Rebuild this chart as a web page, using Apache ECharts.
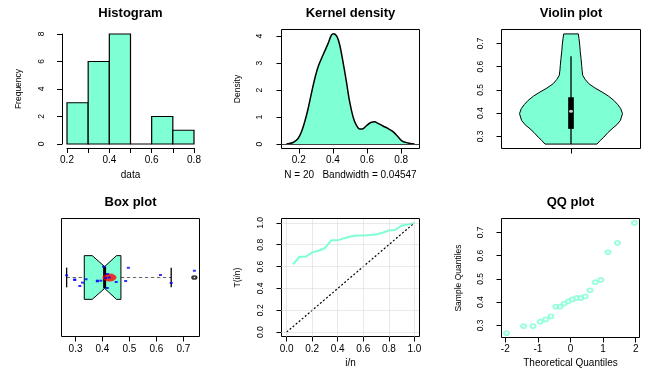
<!DOCTYPE html>
<html>
<head>
<meta charset="utf-8">
<script src="https://cdn.jsdelivr.net/npm/echarts@6/dist/echarts.min.js"></script>
<style>
  html, body { margin: 0; padding: 0; background: #fff; }
  #main { width: 659px; height: 374px; }
</style>
</head>
<body>
<div id="main"></div>
<script>
const AQUA = '#7FFFD4'
const FONT = 'Liberation Sans, Arial, sans-serif'

const sampleData = [0.267, 0.297, 0.297, 0.316, 0.326, 0.339, 0.381, 0.381, 0.394, 0.404,
  0.412, 0.418, 0.418, 0.425, 0.451, 0.486, 0.496, 0.615, 0.655, 0.741]
const sampleTicks = [0.3, 0.4, 0.5, 0.6, 0.7]

// histogram
const histEdges = [0.2, 0.3, 0.4, 0.5, 0.6, 0.7, 0.8]
const histCounts = [3, 6, 8, 0, 2, 1]
const histXTicks = [0.2, 0.3, 0.4, 0.5, 0.6, 0.7, 0.8]
const histXLabels = [0.2, 0.4, 0.6, 0.8]
const histYTicks = [0, 2, 4, 6, 8]

// kernel density
const densX = [0.128, 0.167, 0.196, 0.216, 0.235, 0.255, 0.274, 0.294, 0.313, 0.342, 0.372, 0.391,
  0.405, 0.424, 0.44, 0.459, 0.479, 0.498, 0.518, 0.537, 0.557, 0.572, 0.596, 0.619, 0.644, 0.664,
  0.693, 0.722, 0.752, 0.781, 0.806, 0.84, 0.878]
const densY = [0, 0.06, 0.21, 0.46, 0.83, 1.32, 1.88, 2.43, 2.86, 3.3, 3.73, 4.04,
  4.09, 3.98, 3.67, 3.05, 2.31, 1.57, 1.01, 0.7, 0.56, 0.56, 0.68, 0.79, 0.83, 0.77,
  0.67, 0.58, 0.46, 0.27, 0.11, 0.04, 0]
const densXTicks = [0.2, 0.4, 0.6, 0.8]
const densYTicks = [0, 1, 2, 3, 4]

// violin outline: height and half width
const violinY = [0.267, 0.283, 0.297, 0.316, 0.333, 0.35, 0.369, 0.398, 0.419, 0.437, 0.455, 0.474,
  0.491, 0.508, 0.527, 0.546, 0.563, 0.585, 0.606, 0.635, 0.664, 0.693, 0.721, 0.741]
const violinHalf = [0.202, 0.228, 0.255, 0.286, 0.319, 0.356, 0.384, 0.4, 0.387, 0.363, 0.333, 0.29,
  0.241, 0.187, 0.138, 0.109, 0.091, 0.086, 0.083, 0.078, 0.072, 0.068, 0.062, 0.057]
const violinBox = [0.267, 0.3325, 0.408, 0.4685, 0.645] // whisker lo, q1, median, q3, whisker hi

// box plot
const boxStats = [0.267, 0.3325, 0.408, 0.4685, 0.655]
const boxNotch = [0.362, 0.452]
const boxOutliers = [0.741]
const boxMean = [0.426]
const boxJitter = [0.02, -0.018, -0.023, -0.078, -0.047, -0.016, -0.035, -0.029, -0.029, 0.099,
  -0.005, 0.032, -0.096, 0, -0.041, -0.032, 0.089, 0.023, -0.05, 0.062]

// T(i/n) plot
const tX = [0.05, 0.1, 0.15, 0.2, 0.25, 0.3, 0.35, 0.4, 0.45, 0.5, 0.55, 0.6, 0.65, 0.7, 0.75, 0.8, 0.85, 0.9, 0.95, 1]
const tY = [0.62, 0.69, 0.69, 0.73, 0.745, 0.77, 0.84, 0.84, 0.86, 0.875, 0.885, 0.885, 0.888, 0.893,
  0.91, 0.93, 0.935, 0.975, 0.985, 1]
const tTicks = [0, 0.2, 0.4, 0.6, 0.8, 1]
const tRefLine = [[0, 0], [1, 1]]

// QQ plot
const qqTheo = [-1.96, -1.44, -1.15, -0.93, -0.76, -0.6, -0.45, -0.32, -0.19, -0.06,
  0.06, 0.19, 0.32, 0.45, 0.6, 0.76, 0.93, 1.15, 1.44, 1.96]
const qqXTicks = [-2, -1, 0, 1, 2]

const frame = { show: true, borderColor: '#000', borderWidth: 1, backgroundColor: 'transparent' }
const grids = [
  { left: 67, top: 34, width: 127, height: 110, show: false },
  Object.assign({ left: 281.5, top: 29.5, width: 138, height: 119 }, frame),
  Object.assign({ left: 501.5, top: 29.5, width: 139, height: 119 }, frame),
  Object.assign({ left: 61.5, top: 218.5, width: 138, height: 118 }, frame),
  Object.assign({ left: 281.5, top: 218.5, width: 138, height: 118 }, frame),
  Object.assign({ left: 501.5, top: 218.5, width: 138, height: 119 }, frame)
]

function axis(o) {
  return {
    type: 'value', gridIndex: o.grid, min: o.min, max: o.max, offset: o.offset || 0,
    axisLine: { show: !!o.line, onZero: false, lineStyle: { color: '#000', width: 1 } },
    axisTick: { show: !!o.ticks, customValues: o.ticks, length: 5, lineStyle: { color: '#000', width: 1 } },
    axisLabel: {
      show: !!o.labels, customValues: o.labels, rotate: o.rotate || 0, margin: o.margin,
      color: '#000', fontFamily: FONT, fontSize: o.rotate ? 8.5 : 10, formatter: o.fmt
    },
    splitLine: { show: false },
    name: o.name || '', nameLocation: 'middle', nameGap: o.nameGap || 20,
    nameTextStyle: { color: '#000', fontFamily: FONT, fontSize: o.rotate ? 8.5 : 10 }
  }
}
const oneDec = v => v.toFixed(1)

const xAxes = [
  axis({ grid: 0, min: 0.2, max: 0.8, offset: 4, line: true, ticks: histXTicks, labels: histXLabels, margin: 7, name: 'data', nameGap: 22 }),
  axis({ grid: 1, min: 0.099, max: 0.907, ticks: densXTicks, labels: densXTicks, margin: 7, name: 'N = 20   Bandwidth = 0.04547', nameGap: 22 }),
  axis({ grid: 2, min: 0.46, max: 1.54, ticks: [1] }),
  axis({ grid: 3, min: 0.248, max: 0.76, ticks: sampleTicks, labels: sampleTicks, margin: 7.5 }),
  axis({ grid: 4, min: -0.04, max: 1.04, ticks: tTicks, labels: tTicks, margin: 7.5, fmt: oneDec, name: 'i/n', nameGap: 22 }),
  axis({ grid: 5, min: -2.117, max: 2.117, ticks: qqXTicks, labels: qqXTicks, margin: 7, name: 'Theoretical Quantiles', nameGap: 21 })
]
const yAxes = [
  axis({ grid: 0, min: 0, max: 8, offset: 5, line: true, ticks: histYTicks, labels: histYTicks, rotate: 90, margin: 16, name: 'Frequency', nameGap: 39 }),
  axis({ grid: 1, min: -0.163, max: 4.245, ticks: densYTicks, labels: densYTicks, rotate: 90, margin: 17, name: 'Density', nameGap: 39 }),
  axis({ grid: 2, min: 0.248, max: 0.76, ticks: sampleTicks, labels: sampleTicks, rotate: 90, margin: 16 }),
  axis({ grid: 3, min: 0.46, max: 1.54 }),
  axis({ grid: 4, min: -0.04, max: 1.04, ticks: tTicks, labels: tTicks, rotate: 90, margin: 16, fmt: oneDec, name: 'T(i/n)', nameGap: 39 }),
  axis({ grid: 5, min: 0.248, max: 0.76, ticks: sampleTicks, labels: sampleTicks, rotate: 90, margin: 16, name: 'Sample Quantiles', nameGap: 38 })
]

const titleStyle = { fontFamily: FONT, fontSize: 13, fontWeight: 'bold', color: '#000' }
const titles = [
  { text: 'Histogram', left: 130.5, top: 7 },
  { text: 'Kernel density', left: 350.5, top: 7 },
  { text: 'Violin plot', left: 571, top: 7 },
  { text: 'Box plot', left: 130.5, top: 196 },
  { text: 'QQ plot', left: 570.5, top: 196 }
].map(t => Object.assign({ textAlign: 'center', padding: 0, textStyle: titleStyle }, t))

const series = [
  {
    type: 'custom', xAxisIndex: 0, yAxisIndex: 0,
    data: histCounts.map((c, i) => [histEdges[i], histEdges[i + 1], c]),
    renderItem: (params, api) => {
      const p0 = api.coord([api.value(0), 0])
      const p1 = api.coord([api.value(1), api.value(2)])
      return {
        type: 'rect',
        shape: { x: p0[0], y: p1[1], width: p1[0] - p0[0], height: p0[1] - p1[1] },
        style: { fill: AQUA, stroke: '#000', lineWidth: 1.2 }
      }
    }
  },
  {
    type: 'line', xAxisIndex: 1, yAxisIndex: 1,
    data: densX.map((x, i) => [x, densY[i]]),
    smooth: 0.3, symbol: 'none',
    lineStyle: { color: '#000', width: 1.5 },
    areaStyle: { color: AQUA, opacity: 1 },
    markLine: {
      silent: true, symbol: ['none', 'none'], label: { show: false },
      lineStyle: { color: '#444', type: 'solid', width: 1 },
      data: [{ yAxis: 0 }]
    }
  },
  {
    type: 'custom', xAxisIndex: 2, yAxisIndex: 2, data: [[1, violinBox[2]]],
    renderItem: (params, api) => {
      const left = violinY.map((y, i) => api.coord([1 - violinHalf[i], y]))
      const right = violinY.map((y, i) => api.coord([1 + violinHalf[i], y])).reverse()
      const lo = api.coord([1, violinBox[0]])
      const hi = api.coord([1, violinBox[4]])
      const a = api.coord([1 - 0.022, violinBox[3]])
      const b = api.coord([1 + 0.022, violinBox[1]])
      return {
        type: 'group',
        children: [
          { type: 'polygon', shape: { points: left.concat(right) }, style: { fill: AQUA, stroke: '#000', lineWidth: 1 } },
          { type: 'line', shape: { x1: lo[0], y1: lo[1], x2: hi[0], y2: hi[1] }, style: { stroke: '#000', lineWidth: 1.3 } },
          { type: 'rect', shape: { x: a[0], y: a[1], width: b[0] - a[0], height: b[1] - a[1] }, style: { fill: '#000' } }
        ]
      }
    }
  },
  {
    type: 'scatter', xAxisIndex: 2, yAxisIndex: 2, data: [[1, violinBox[2]]],
    symbol: 'circle', symbolSize: [4, 3], itemStyle: { color: '#fff' }
  },
  {
    type: 'custom', xAxisIndex: 3, yAxisIndex: 3, data: [[boxStats[2], 1]],
    renderItem: (params, api) => {
      const [wlo, q1, med, q3, whi] = boxStats
      const [nlo, nhi] = boxNotch
      const h = 0.2, hn = 0.1, hs = 0.09
      const pts = [[q1, 1 - h], [nlo, 1 - h], [med, 1 - hn], [nhi, 1 - h], [q3, 1 - h],
        [q3, 1 + h], [nhi, 1 + h], [med, 1 + hn], [nlo, 1 + h], [q1, 1 + h]].map(p => api.coord(p))
      const seg = (x1, y1, x2, y2, style) => {
        const p = api.coord([x1, y1]), q = api.coord([x2, y2])
        return { type: 'line', shape: { x1: p[0], y1: p[1], x2: q[0], y2: q[1] }, style }
      }
      const dash = { stroke: '#666', lineWidth: 1.2, lineDash: [3.3, 2.7] }
      const solid = { stroke: '#000', lineWidth: 1.3 }
      return {
        type: 'group',
        children: [
          seg(wlo, 1, q1, 1, dash),
          seg(q3, 1, whi, 1, dash),
          seg(wlo, 1 - hs, wlo, 1 + hs, solid),
          seg(whi, 1 - hs, whi, 1 + hs, solid),
          { type: 'polygon', shape: { points: pts }, style: { fill: AQUA, stroke: '#000', lineWidth: 1 } },
          seg(med, 1 - hn, med, 1 + hn, { stroke: '#000', lineWidth: 3 })
        ]
      }
    }
  },
  {
    type: 'scatter', xAxisIndex: 3, yAxisIndex: 3, data: boxMean.map(v => [v, 1]),
    symbol: 'circle', symbolSize: [14, 8], itemStyle: { color: '#ff0000' }, z: 3
  },
  {
    type: 'scatter', xAxisIndex: 3, yAxisIndex: 3,
    data: sampleData.map((v, i) => [v, 1 + boxJitter[i]]),
    symbol: 'rect', symbolSize: [3, 2], itemStyle: { color: '#0000ff' }, z: 4
  },
  {
    type: 'scatter', xAxisIndex: 3, yAxisIndex: 3, data: boxOutliers.map(v => [v, 1]),
    symbol: 'emptyCircle', symbolSize: [4, 3], itemStyle: { color: '#000', borderWidth: 1 }
  },
  {
    type: 'line', xAxisIndex: 4, yAxisIndex: 4, data: tRefLine, symbol: 'none',
    lineStyle: { color: '#000', width: 1.2, type: [2, 2] },
    markLine: {
      silent: true, symbol: ['none', 'none'], label: { show: false },
      lineStyle: { color: '#d3d3d3', type: 'dotted', width: 1 },
      data: tTicks.map(v => ({ xAxis: v })).concat(tTicks.map(v => ({ yAxis: v })))
    }
  },
  {
    type: 'line', xAxisIndex: 4, yAxisIndex: 4, data: tX.map((x, i) => [x, tY[i]]),
    symbol: 'none', lineStyle: { color: AQUA, width: 2 }
  },
  {
    type: 'scatter', xAxisIndex: 5, yAxisIndex: 5, data: qqTheo.map((x, i) => [x, sampleData[i]]),
    symbol: 'emptyCircle', symbolSize: [5, 4], itemStyle: { color: AQUA, borderWidth: 1 }
  }
]

const chart = echarts.init(document.getElementById('main'), null, { renderer: 'canvas' })
chart.setOption({
  animation: false,
  backgroundColor: '#fff',
  title: titles,
  grid: grids,
  xAxis: xAxes,
  yAxis: yAxes,
  series: series
})
window.addEventListener('resize', () => chart.resize())
</script>
</body>
</html>
